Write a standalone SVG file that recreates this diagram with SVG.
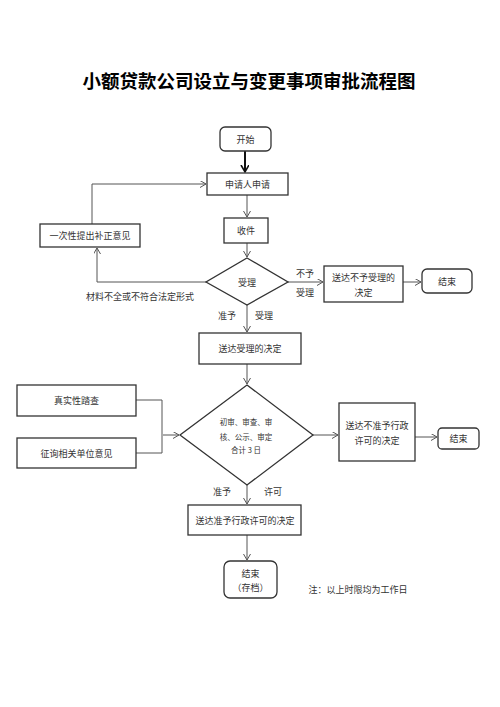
<svg xmlns="http://www.w3.org/2000/svg" width="500" height="707" viewBox="0 0 500 707">
<style>
text{font-family:"Noto Sans CJK SC","Noto Sans",sans-serif;font-size:9px;fill:#333;text-anchor:middle;dominant-baseline:central}
.title{font-size:18.5px;font-weight:bold;fill:#000}
.small{font-size:7.5px}
.box{fill:#fff;stroke:#333;stroke-width:1.3}
.conn{fill:none;stroke:#555;stroke-width:1}
.thick{fill:none;stroke:#111;stroke-width:2}
</style>
<defs>
<marker id="arr" markerUnits="userSpaceOnUse" markerWidth="8" markerHeight="8" refX="6" refY="3.5" orient="auto"><path d="M0,0 L6,3.5 L0,7" fill="none" stroke="#555" stroke-width="1"/></marker>
<marker id="arrB" markerUnits="userSpaceOnUse" markerWidth="10" markerHeight="10" refX="7" refY="4" orient="auto"><path d="M0,0 L7,4 L0,8" fill="none" stroke="#111" stroke-width="1.6"/></marker>
</defs>
<rect width="500" height="707" fill="#fff"/>
<text class="title" x="249" y="80">小额贷款公司设立与变更事项审批流程图</text>

<g id="connectors">
<path class="thick" d="M245,151 V172" marker-end="url(#arrB)"/>
<path class="conn" d="M247,195 V217" marker-end="url(#arr)"/>
<path class="conn" d="M247,243 V257" marker-end="url(#arr)"/>
<path class="conn" d="M206,282 H97 V248" marker-end="url(#arr)"/>
<path class="conn" d="M92,224 V184 H206" marker-end="url(#arr)"/>
<path class="conn" d="M288,282 H323" marker-end="url(#arr)"/>
<path class="conn" d="M403,282 H421" marker-end="url(#arr)"/>
<path class="conn" d="M247,305 V332" marker-end="url(#arr)"/>
<path class="conn" d="M247,364 V384" marker-end="url(#arr)"/>
<path class="conn" d="M136,400 H162 V453 H136"/>
<path class="conn" d="M163,435 H179" marker-end="url(#arr)"/>
<path class="conn" d="M313,435 H338" marker-end="url(#arr)"/>
<path class="conn" d="M415,437 H437" marker-end="url(#arr)"/>
<path class="conn" d="M247,485 V504" marker-end="url(#arr)"/>
<path class="conn" d="M247,535 V560" marker-end="url(#arr)"/>
<text x="140" y="296">材料不全或不符合法定形式</text>
<text x="305" y="273">不予</text>
<text x="305" y="292">受理</text>
<text x="227" y="315">准予</text>
<text x="264" y="315">受理</text>
<text x="222" y="491">准予</text>
<text x="273" y="491">许可</text>
</g>

<g id="start"><rect class="box" x="220" y="127" width="51" height="24" rx="5"/><text x="245.5" y="139">开始</text></g>
<g id="apply"><rect class="box" x="207" y="173" width="81" height="22"/><text x="247.5" y="184">申请人申请</text></g>
<g id="receive"><rect class="box" x="224" y="218" width="44" height="25"/><text x="246" y="230.5">收件</text></g>
<g id="accept"><polygon class="box" points="247,258 288,282 247,305 206,282"/><text x="247" y="282">受理</text></g>
<g id="supplement"><rect class="box" x="40" y="224" width="100" height="23"/><text x="90" y="235.5">一次性提出补正意见</text></g>
<g id="reject"><rect class="box" x="324" y="266" width="79" height="36"/><text x="363.5" y="277">送达不予受理的</text><text x="363.5" y="292">决定</text></g>
<g id="end1"><rect class="box" x="422" y="269" width="50" height="24" rx="5"/><text x="447" y="281">结束</text></g>
<g id="acceptDecision"><rect class="box" x="199" y="333" width="102" height="31"/><text x="250" y="348.5">送达受理的决定</text></g>
<g id="review"><polygon class="box" points="247,385 313,435 247,485 180,435"/><text class="small" x="246" y="421">初审、审查、审</text><text class="small" x="246" y="436">核、公示、审定</text><text class="small" x="246" y="449">合计 3 日</text></g>
<g id="inspect"><rect class="box" x="17" y="385" width="119" height="31"/><text x="76.5" y="400.5">真实性踏查</text></g>
<g id="consult"><rect class="box" x="17" y="438" width="119" height="30"/><text x="76.5" y="453">征询相关单位意见</text></g>
<g id="deny"><rect class="box" x="339" y="403" width="76" height="58"/><text x="377" y="425">送达不准予行政</text><text x="377" y="440">许可的决定</text></g>
<g id="end2"><rect class="box" x="438" y="428" width="41" height="21" rx="4"/><text x="458.5" y="438.5">结束</text></g>
<g id="grant"><rect class="box" x="188" y="505" width="113" height="30"/><text x="245" y="520">送达准予行政许可的决定</text></g>
<g id="end3"><rect class="box" x="224" y="561" width="53" height="37" rx="6"/><text x="250.5" y="573">结束</text><text x="250.5" y="587">（存档）</text></g>
<text x="358" y="589">注：以上时限均为工作日</text>
</svg>
